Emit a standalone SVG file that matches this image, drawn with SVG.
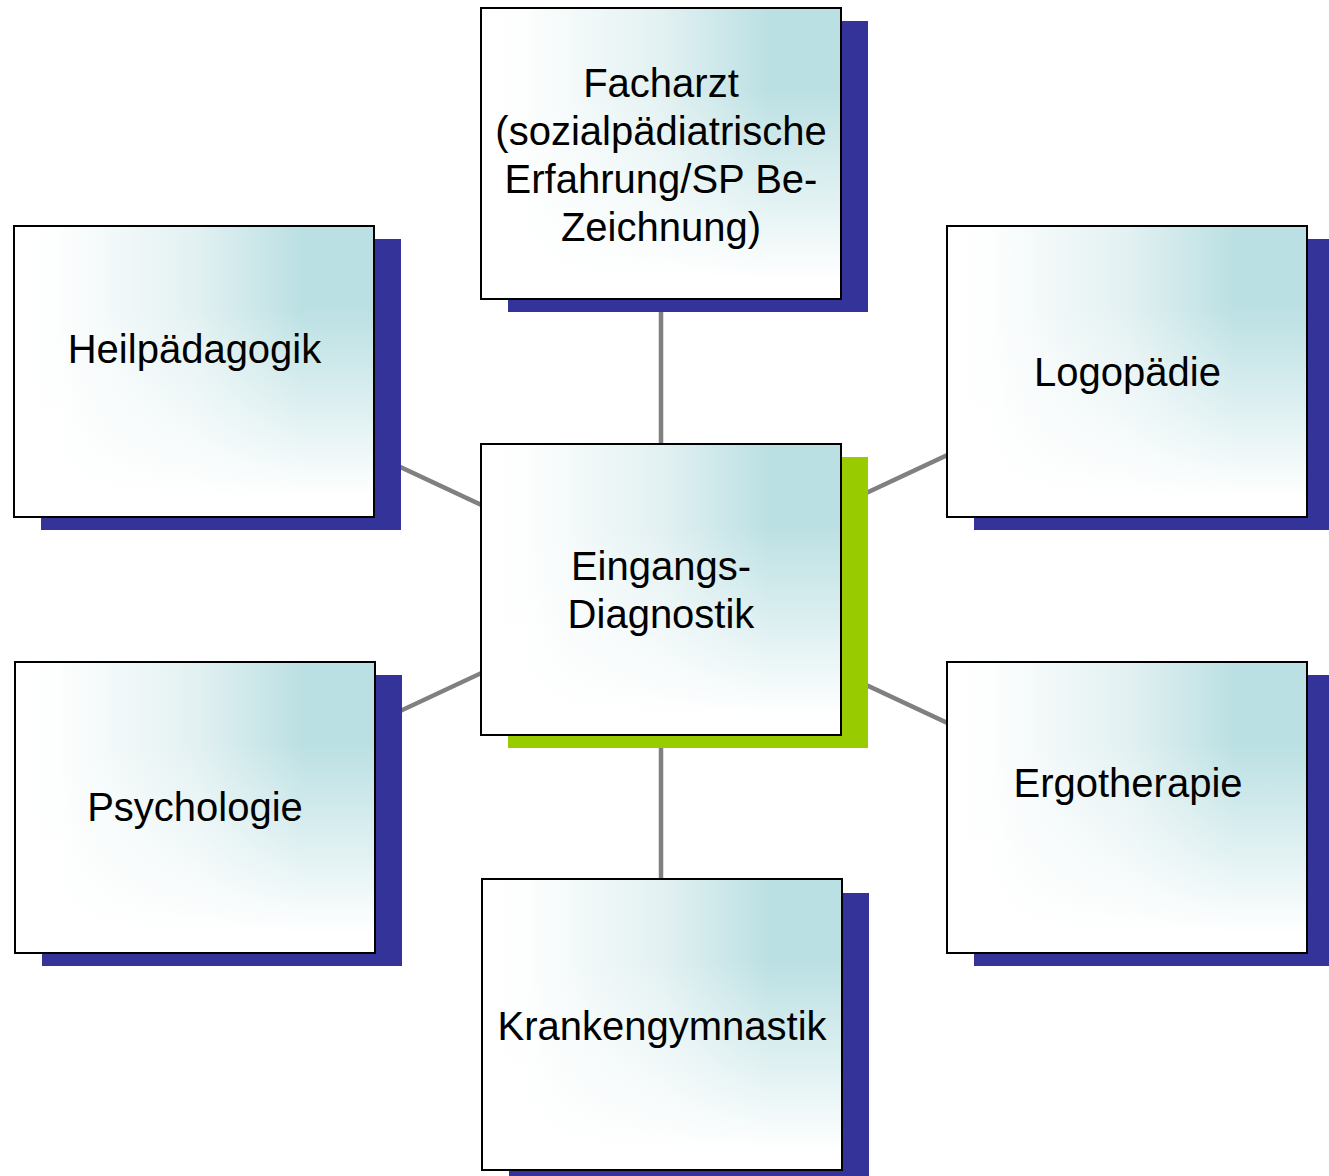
<svg xmlns="http://www.w3.org/2000/svg" width="1329" height="1176" viewBox="0 0 1329 1176">
<defs>
<linearGradient id="gh" x1="0" y1="0" x2="1" y2="0">
<stop offset="0" stop-color="#ffffff"/>
<stop offset="0.12" stop-color="#fdfefe"/>
<stop offset="0.5" stop-color="#e3f1f2"/>
<stop offset="0.8" stop-color="#bbe0e3"/>
<stop offset="1" stop-color="#bbe0e3"/>
</linearGradient>
<linearGradient id="gv" x1="0" y1="0" x2="0" y2="1">
<stop offset="0" stop-color="#ffffff" stop-opacity="0"/>
<stop offset="0.28" stop-color="#ffffff" stop-opacity="0"/>
<stop offset="0.65" stop-color="#ffffff" stop-opacity="0.55"/>
<stop offset="0.93" stop-color="#ffffff" stop-opacity="1"/>
<stop offset="1" stop-color="#ffffff" stop-opacity="1"/>
</linearGradient>
</defs>
<style>
.sh{fill:#333399}
.shg{fill:#99cc00}
.bg{fill:url(#gh)}
.ov{fill:url(#gv)}
.bd{fill:none;stroke:#000000;stroke-width:2}
.t{font-family:"Liberation Sans",Arial,sans-serif;font-size:40px;fill:#000000;text-anchor:middle}
.c{stroke:#808080;stroke-width:4.5;fill:none}
</style>
<rect width="1329" height="1176" fill="#ffffff"/>
<g id="connectors">
<line class="c" x1="661" y1="589" x2="661" y2="153"/>
<line class="c" x1="661" y1="589" x2="195" y2="371"/>
<line class="c" x1="661" y1="589" x2="1127" y2="371"/>
<line class="c" x1="661" y1="589" x2="195" y2="807"/>
<line class="c" x1="661" y1="589" x2="1127" y2="807"/>
<line class="c" x1="661" y1="589" x2="661" y2="1025"/>
</g>
<g id="facharzt">
<rect class="sh" x="508" y="21" width="360" height="291"/>
<rect class="bg" x="481" y="8" width="360" height="291"/>
<rect class="ov" x="481" y="8" width="360" height="291"/>
<rect class="bd" x="481" y="8" width="360" height="291"/>
<text class="t" x="661" y="97">Facharzt</text>
<text class="t" x="661" y="145">(sozialpädiatrische</text>
<text class="t" x="661" y="193">Erfahrung/SP Be-</text>
<text class="t" x="661" y="241">Zeichnung)</text>
</g>
<g id="heilpaedagogik">
<rect class="sh" x="41" y="239" width="360" height="291"/>
<rect class="bg" x="14" y="226" width="360" height="291"/>
<rect class="ov" x="14" y="226" width="360" height="291"/>
<rect class="bd" x="14" y="226" width="360" height="291"/>
<text class="t" x="194.5" y="363">Heilpädagogik</text>
</g>
<g id="logopaedie">
<rect class="sh" x="974" y="239" width="360" height="291"/>
<rect class="bg" x="947" y="226" width="360" height="291"/>
<rect class="ov" x="947" y="226" width="360" height="291"/>
<rect class="bd" x="947" y="226" width="360" height="291"/>
<text class="t" x="1127.5" y="386">Logopädie</text>
</g>
<g id="eingangsdiagnostik">
<rect class="shg" x="508" y="457" width="360" height="291"/>
<rect class="bg" x="481" y="444" width="360" height="291"/>
<rect class="ov" x="481" y="444" width="360" height="291"/>
<rect class="bd" x="481" y="444" width="360" height="291"/>
<text class="t" x="661" y="580">Eingangs-</text>
<text class="t" x="661" y="628">Diagnostik</text>
</g>
<g id="psychologie">
<rect class="sh" x="42" y="675" width="360" height="291"/>
<rect class="bg" x="15" y="662" width="360" height="291"/>
<rect class="ov" x="15" y="662" width="360" height="291"/>
<rect class="bd" x="15" y="662" width="360" height="291"/>
<text class="t" x="195" y="821">Psychologie</text>
</g>
<g id="ergotherapie">
<rect class="sh" x="974" y="675" width="360" height="291"/>
<rect class="bg" x="947" y="662" width="360" height="291"/>
<rect class="ov" x="947" y="662" width="360" height="291"/>
<rect class="bd" x="947" y="662" width="360" height="291"/>
<text class="t" x="1128" y="797">Ergotherapie</text>
</g>
<g id="krankengymnastik">
<rect class="sh" x="509" y="893" width="360" height="291"/>
<rect class="bg" x="482" y="879" width="360" height="291"/>
<rect class="ov" x="482" y="879" width="360" height="291"/>
<rect class="bd" x="482" y="879" width="360" height="291"/>
<text class="t" x="662" y="1040">Krankengymnastik</text>
</g>
</svg>
